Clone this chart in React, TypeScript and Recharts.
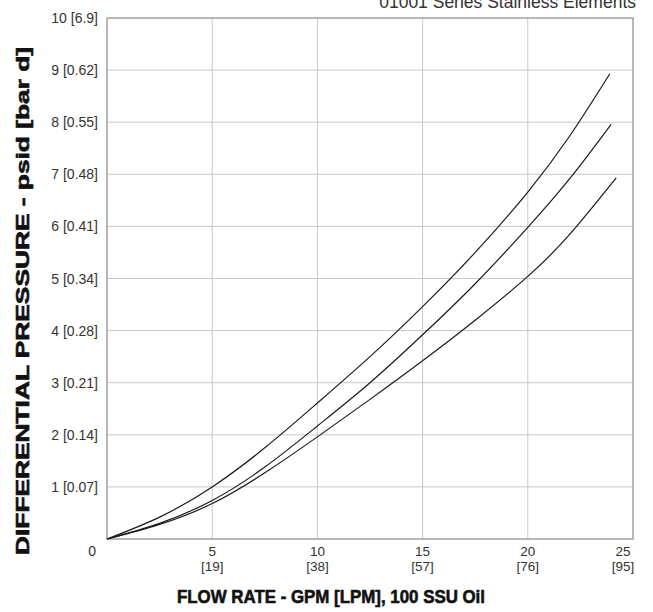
import React from 'react'
import { LineChart, Line, XAxis, YAxis, CartesianGrid, ReferenceArea } from 'recharts'

// axis ticks (GPM / psid) and their metric twins
const xTicks = [0, 5, 10, 15, 20, 25]
const xTickLpm = ['', '[19]', '[38]', '[57]', '[76]', '[95]']
const yTicks = [0, 1, 2, 3, 4, 5, 6, 7, 8, 9, 10]
const yTickBar = ['', '[0.07]', '[0.14]', '[0.21]', '[0.28]', '[0.34]', '[0.41]', '[0.48]', '[0.55]', '[0.62]', '[6.9]']

// three element curves
const upperFlow = [0, 2.5, 5, 7.5, 10, 12.5, 15, 17.5, 20, 22, 23.9]
const upperDp = [0, 0.42, 1.0, 1.75, 2.61, 3.5, 4.46, 5.5, 6.66, 7.74, 8.93]

const middleFlow = [0, 2.5, 5, 7.5, 10, 12.5, 15, 17.5, 20, 22, 23.96]
const middleDp = [0, 0.3, 0.74, 1.38, 2.17, 3.0, 3.92, 4.9, 5.98, 6.92, 7.96]

const lowerFlow = [0, 2.5, 5, 7.5, 10, 12.5, 15, 17.5, 20, 22, 24.2]
const lowerDp = [0, 0.28, 0.68, 1.27, 1.96, 2.68, 3.42, 4.2, 5.04, 5.85, 6.93]

const toPoints = (xs: number[], ys: number[]) => xs.map((x, i) => ({ gpm: x, psid: ys[i] }))

const upper = toPoints(upperFlow, upperDp)
const middle = toPoints(middleFlow, middleDp)
const lower = toPoints(lowerFlow, lowerDp)

const W = 653
const H = 612
const FONT = '"Liberation Sans", Arial, sans-serif'
const TEXT = '#333'

function XTick(props: any) {
  const { x, payload } = props
  const v = payload.value as number
  if (v === 0) return null
  const i = xTicks.indexOf(v)
  // last label is pulled in a bit, like the original
  const cx = v === 25 ? x - 10 : x
  return (
    <g fontFamily={FONT} fontSize={13.5} fill={TEXT}>
      <text x={cx} y={556} textAnchor="middle">{v}</text>
      <text x={cx} y={571} textAnchor="middle">{xTickLpm[i]}</text>
    </g>
  )
}

function YTick(props: any) {
  const { y, payload } = props
  const v = payload.value as number
  const i = yTicks.indexOf(v)
  if (v === 0) {
    return (
      <text x={96} y={556} textAnchor="end" fontFamily={FONT} fontSize={14} fill={TEXT}>0</text>
    )
  }
  return (
    <text x={98} y={y + 5} textAnchor="end" fontFamily={FONT} fontSize={14} fill={TEXT}>
      {`${v} ${yTickBar[i]}`}
    </text>
  )
}

export default function App() {
  return (
    <div style={{ position: 'absolute', left: 0, top: 0, width: W, height: H, background: '#fff' }}>
      <LineChart width={W} height={H} margin={{ top: 18, right: 20, left: 0, bottom: 0 }}>
        <CartesianGrid stroke="#c8c8c8" strokeWidth={1} />
        <XAxis
          type="number"
          dataKey="gpm"
          domain={[0, 25]}
          ticks={xTicks}
          height={73}
          tick={<XTick />}
          tickLine={false}
          axisLine={false}
          interval={0}
        />
        <YAxis
          type="number"
          dataKey="psid"
          domain={[0, 10]}
          ticks={yTicks}
          width={107}
          tick={<YTick />}
          tickLine={false}
          axisLine={false}
          interval={0}
        />
        <ReferenceArea x1={0} x2={25} y1={0} y2={10} fill="none" stroke="#a9a9a9" strokeWidth={1.5} />
        <Line data={upper} dataKey="psid" type="natural" stroke="#1a1a1a" strokeWidth={1.2} dot={false} isAnimationActive={false} />
        <Line data={middle} dataKey="psid" type="natural" stroke="#1a1a1a" strokeWidth={1.2} dot={false} isAnimationActive={false} />
        <Line data={lower} dataKey="psid" type="natural" stroke="#1a1a1a" strokeWidth={1.2} dot={false} isAnimationActive={false} />
      </LineChart>
      <svg width={W} height={H} style={{ position: 'absolute', left: 0, top: 0, pointerEvents: 'none' }}>
        <text x={636} y={8} textAnchor="end" fontFamily={FONT} fontSize={17.5} fill={TEXT}>
          01001 Series Stainless Elements
        </text>
        <text
          transform="translate(29, 301) rotate(-90)"
          textAnchor="middle"
          fontFamily={FONT}
          fontSize={18}
          fontWeight="bold"
          fill="#111"
          stroke="#111"
          strokeWidth={0.6}
          textLength={508}
          lengthAdjust="spacingAndGlyphs"
        >
          DIFFERENTIAL PRESSURE - psid [bar d]
        </text>
        <text
          x={331}
          y={603}
          textAnchor="middle"
          fontFamily={FONT}
          fontSize={18}
          fontWeight="bold"
          fill="#111"
          stroke="#111"
          strokeWidth={0.6}
          textLength={308}
          lengthAdjust="spacingAndGlyphs"
        >
          FLOW RATE - GPM [LPM], 100 SSU Oil
        </text>
      </svg>
    </div>
  )
}
